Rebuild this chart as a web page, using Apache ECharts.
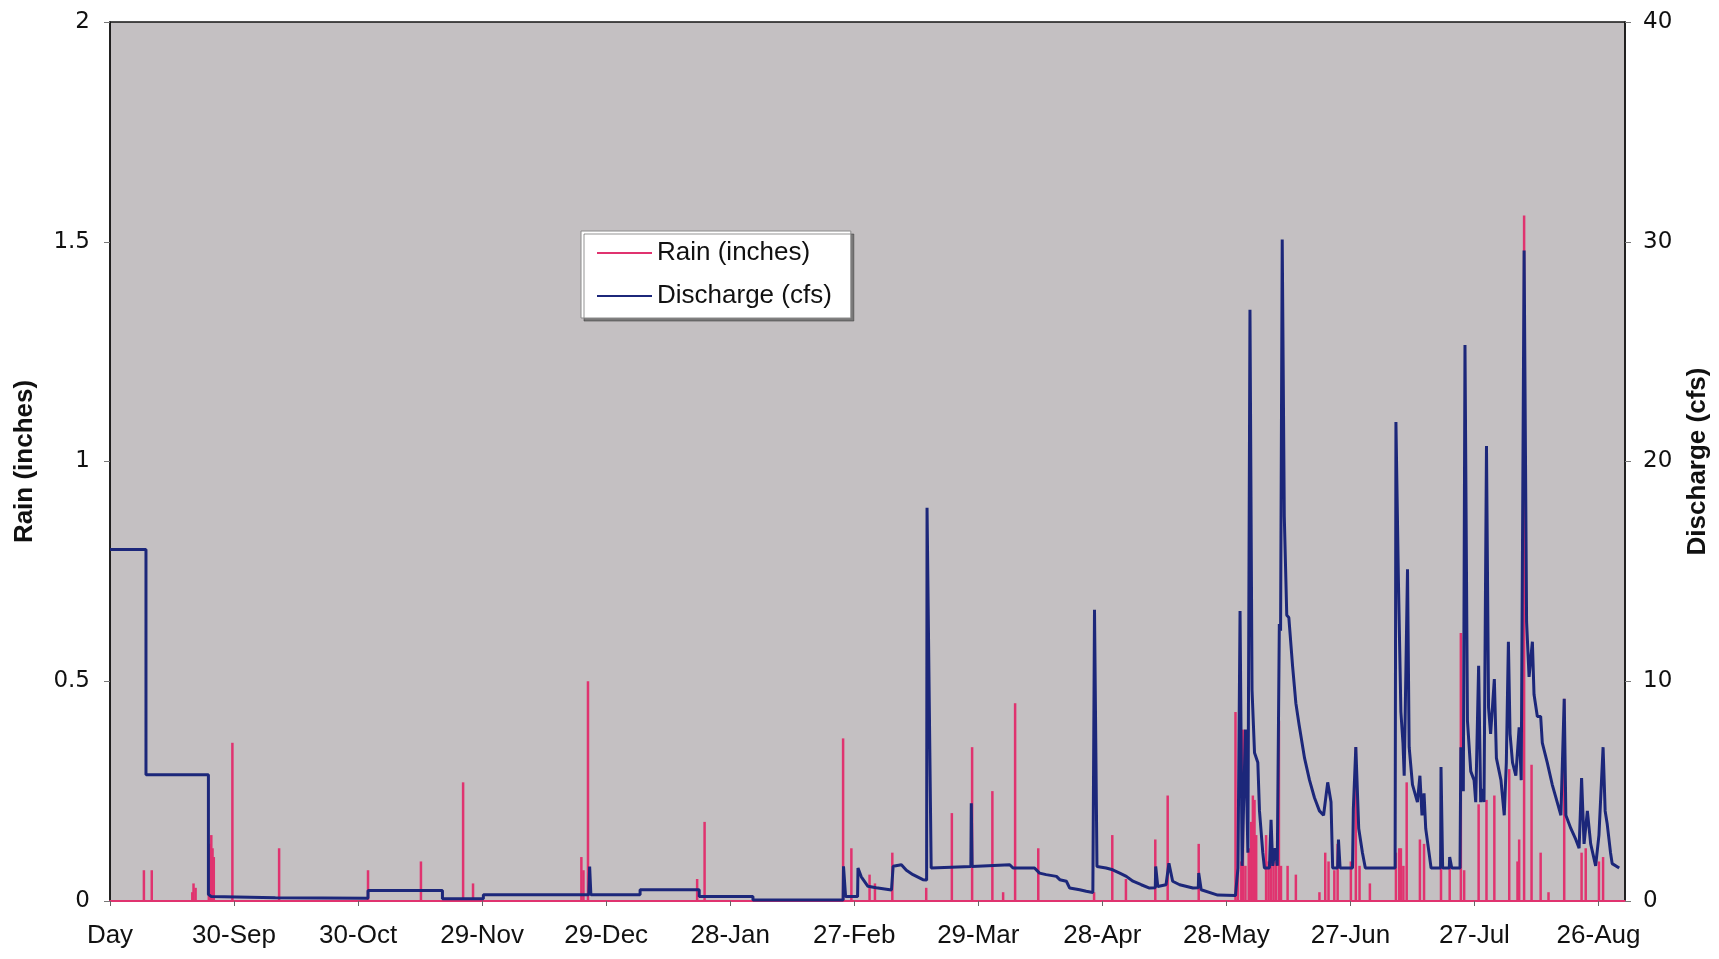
<!DOCTYPE html>
<html>
<head>
<meta charset="utf-8">
<script src="https://cdn.jsdelivr.net/npm/echarts@6/dist/echarts.min.js"></script>
<style>
  html, body { margin: 0; padding: 0; background: #ffffff; }
  #chart { width: 1719px; height: 959px; }
</style>
</head>
<body>
<div id="chart"></div>
<script>
// x axis: days since the start of the record, labelled every 30 days
const tickLabels = ['Day', '30-Sep', '30-Oct', '29-Nov', '29-Dec', '28-Jan', '27-Feb',
                    '29-Mar', '28-Apr', '28-May', '27-Jun', '27-Jul', '26-Aug'];

// rainfall events: day and depth (inches)
const rainDay = [8.2, 10.1, 19.9, 20.2, 20.7, 23.9, 24.2, 24.5, 24.8, 25.1, 29.6, 40.9, 62.4, 75.2,
  85.4, 87.8, 114.0, 114.5, 115.6, 142.0, 143.8, 177.3, 179.3, 183.7, 185.0, 189.2, 197.4, 203.6,
  208.5, 213.4, 216.0, 218.9, 224.5, 238.0, 242.4, 245.7, 252.8, 255.8, 263.3,
  272.2, 272.8, 273.6, 274.0, 274.6, 275.4, 276.0, 276.4, 276.8, 277.2, 279.6, 280.2, 280.8,
  281.4, 282.0, 282.7, 283.2, 284.8, 286.8, 292.5, 293.9, 294.7, 296.1, 296.9, 300.1, 301.3,
  302.2, 304.7, 311.0, 311.8, 312.2, 312.8, 313.6, 316.8, 317.8, 321.9, 324.0, 326.7, 327.5,
  331.0, 332.9, 334.8, 338.4, 340.4, 340.8, 342.0, 343.8, 346.0, 347.9, 351.7, 355.9, 356.9,
  360.1, 361.1];
const rainIn = [0.07, 0.07, 0.02, 0.04, 0.03, 0.08, 0.13, 0.15, 0.12, 0.10, 0.36, 0.12, 0.07, 0.09,
  0.27, 0.04, 0.10, 0.07, 0.50, 0.05, 0.18, 0.37, 0.12, 0.06, 0.04, 0.11, 0.03, 0.20,
  0.35, 0.25, 0.02, 0.45, 0.12, 0.02, 0.15, 0.05, 0.14, 0.24, 0.13,
  0.43, 0.07, 0.09, 0.39, 0.08, 0.12, 0.18, 0.24, 0.23, 0.15, 0.15, 0.09, 0.09,
  0.09, 0.09, 0.41, 0.08, 0.08, 0.06, 0.02, 0.11, 0.09, 0.07, 0.13, 0.09, 0.35,
  0.08, 0.04, 0.11, 0.12, 0.12, 0.08, 0.27, 0.14, 0.13, 0.10, 0.09, 0.61, 0.07,
  0.22, 0.23, 0.24, 0.30, 0.09, 0.14, 1.56, 0.31, 0.11, 0.02, 0.46, 0.11, 0.12,
  0.09, 0.10];

// stream discharge: day and flow (cfs)
const flowDay = [0, 8.7, 8.7, 23.8, 23.8, 24.5, 40, 62.4, 62.4, 80.4, 80.4, 90.3, 90.3, 115.8, 116.0,
  116.3, 128.2, 128.2, 142.5, 142.5, 155.5, 155.5, 177.3, 177.4, 177.9, 180.8, 180.9, 181.7, 183.3,
  185.3, 189.0, 189.4, 191.4, 192.6, 194.2, 196.6, 197.5, 197.6, 198.6, 208.2, 208.3, 208.5, 217.6,
  218.4, 223.6, 224.8, 226.4, 228.9, 229.7, 231.3, 232.1, 234.5, 236.1, 237.7, 238.1, 238.7, 240.9,
  242.5, 244.2, 245.8, 247.4, 249.4, 251.4, 252.8, 252.9, 253.4, 255.4, 256.1, 257.0, 258.7, 261.9,
  263.2, 263.3, 263.9, 267.9, 272.2, 272.5, 272.8, 273.3, 273.8, 274.6, 275.2, 275.7, 276.2, 276.8,
  277.6, 278.0, 278.8, 279.2, 280.4, 280.8, 281.2, 281.8, 282.3, 282.8, 283.1, 283.5, 284.0, 284.6,
  285.1, 286.0, 286.8, 287.6, 288.9, 290.1, 291.3, 292.5, 293.5, 294.5, 295.3, 295.7, 296.9, 297.1,
  297.5, 300.5, 300.7, 301.3, 302.0, 302.9, 303.6, 310.8, 311.0, 311.6, 312.2, 312.7, 313.0, 313.8,
  314.2, 315.0, 316.2, 316.8, 317.3, 317.8, 318.2, 319.0, 319.5, 321.8, 321.9, 322.3, 323.9, 324.0,
  324.5, 326.5, 326.7, 327.3, 327.7, 328.3, 329.1, 329.9, 330.3, 331.0, 331.5, 331.9, 332.3, 332.9,
  333.4, 333.9, 334.8, 335.3, 336.4, 337.2, 337.7, 338.2, 338.6, 339.2, 340.0, 340.8, 341.3, 342.0,
  342.6, 343.2, 344.0, 344.4, 345.2, 346.0, 346.4, 347.6, 348.8, 350.0, 350.9, 351.7, 352.1, 353.3,
  354.5, 355.3, 355.9, 356.5, 357.3, 358.1, 359.3, 360.1, 361.1, 361.6, 362.1, 362.9, 363.3, 365.0];
const flowCfs = [16.0, 16.0, 5.75, 5.75, 0.3, 0.2, 0.15, 0.12, 0.48, 0.48, 0.1, 0.1, 0.28, 0.28, 1.57,
  0.28, 0.28, 0.51, 0.51, 0.2, 0.2, 0.05, 0.05, 1.58, 0.2, 0.2, 1.5, 1.1, 0.67,
  0.6, 0.5, 1.58, 1.65, 1.4, 1.2, 0.97, 0.95, 17.9, 1.5, 1.57, 4.45, 1.57, 1.65,
  1.5, 1.5, 1.27, 1.2, 1.12, 0.97, 0.9, 0.59, 0.51, 0.44, 0.39, 13.25, 1.57, 1.5,
  1.42, 1.27, 1.12, 0.9, 0.74, 0.59, 0.6, 1.57, 0.66, 0.74, 1.72, 0.9, 0.74, 0.59,
  0.6, 1.27, 0.51, 0.27, 0.25, 0.9, 1.5, 13.2, 1.6, 7.8, 2.2, 26.9, 9.6, 6.75,
  6.3, 4.1, 2.2, 1.5, 1.5, 3.7, 1.6, 2.4, 1.6, 12.6, 12.3, 30.1, 17.5, 13.0,
  12.9, 10.7, 9.0, 8.0, 6.5, 5.5, 4.7, 4.1, 3.9, 5.4, 4.5, 1.5, 1.5, 2.8,
  1.5, 1.5, 4.2, 7.0, 3.3, 2.2, 1.5, 1.5, 21.8, 14.6, 8.6, 7.2, 5.7, 15.1,
  7.0, 5.3, 4.5, 5.7, 3.9, 4.9, 3.3, 2.2, 1.5, 1.5, 6.1, 1.5, 1.5, 2.0,
  1.5, 1.5, 7.0, 5.0, 25.3, 8.2, 5.9, 5.5, 4.5, 10.7, 4.5, 5.1, 4.5, 20.7,
  8.8, 7.6, 10.1, 6.5, 5.5, 3.9, 6.3, 11.8, 7.6, 6.3, 5.7, 7.9, 5.5, 29.6,
  12.7, 10.2, 11.8, 9.4, 8.4, 8.4, 7.2, 6.3, 5.3, 4.5, 3.9, 9.2, 3.9, 3.3,
  2.8, 2.4, 5.6, 2.6, 4.1, 2.6, 1.6, 3.0, 7.0, 4.1, 3.5, 2.2, 1.7, 1.5];

const RAIN_COLOR = '#e0336f';
const FLOW_COLOR = '#1c277a';
const TEXT_FONT = "'Liberation Sans', Arial, sans-serif";
const NUM_FONT = "'DejaVu Sans', Verdana, sans-serif";

const rainData = rainDay.map((d, i) => [d, rainIn[i]]);
const flowData = flowDay.map((d, i) => [d, flowCfs[i]]);

const chart = echarts.init(document.getElementById('chart'), null, { renderer: 'canvas' });

chart.setOption({
  animation: false,
  backgroundColor: '#ffffff',
  grid: {
    left: 110, right: 93, top: 22, bottom: 58,
    show: true,
    backgroundColor: '#c4c0c2',
    borderColor: '#151515',
    borderWidth: 1.5
  },
  legend: {
    data: ['Rain (inches)', 'Discharge (cfs)'],
    orient: 'vertical',
    left: 581, top: 231,
    icon: 'rect',
    itemWidth: 55, itemHeight: 2,
    itemGap: 17,
    padding: [9, 19, 9, 16],
    backgroundColor: '#ffffff',
    borderColor: '#8a8a8a',
    borderWidth: 1,
    shadowColor: 'rgba(60,60,60,0.55)',
    shadowOffsetX: 3, shadowOffsetY: 3, shadowBlur: 0,
    textStyle: { fontFamily: TEXT_FONT, fontSize: 26, color: '#111' }
  },
  xAxis: {
    type: 'value',
    min: 0, max: 366.4, interval: 30,
    axisLine: { show: true, onZero: false, lineStyle: { color: RAIN_COLOR, width: 2 } },
    axisTick: { show: true, length: 5, lineStyle: { color: '#666', width: 1 } },
    splitLine: { show: false },
    axisLabel: {
      margin: 22,
      fontFamily: TEXT_FONT, fontSize: 26, color: '#111',
      showMaxLabel: false,
      formatter: function (v) {
        const k = Math.round(v / 30);
        return Math.abs(v - k * 30) < 1e-6 && tickLabels[k] ? tickLabels[k] : '';
      }
    }
  },
  yAxis: [
    {
      type: 'value', position: 'left',
      min: 0, max: 2, interval: 0.5,
      name: 'Rain (inches)', nameLocation: 'middle', nameGap: 72, nameRotate: 90,
      nameTextStyle: { fontFamily: TEXT_FONT, fontSize: 26, fontWeight: 'bold', color: '#111' },
      axisLine: { show: true, lineStyle: { color: '#151515', width: 1.5 } },
      axisTick: { show: true, length: 6, lineStyle: { color: '#777' } },
      splitLine: { show: false },
      axisLabel: { margin: 20, fontFamily: NUM_FONT, fontSize: 23, color: '#111' }
    },
    {
      type: 'value', position: 'right',
      min: 0, max: 40, interval: 10,
      name: 'Discharge (cfs)', nameLocation: 'middle', nameGap: 60, nameRotate: 90,
      nameTextStyle: { fontFamily: TEXT_FONT, fontSize: 26, fontWeight: 'bold', color: '#111' },
      axisLine: { show: true, lineStyle: { color: '#151515', width: 1.5 } },
      axisTick: { show: true, length: 6, lineStyle: { color: '#777' } },
      splitLine: { show: false },
      axisLabel: { margin: 18, fontFamily: NUM_FONT, fontSize: 23, color: '#111' }
    }
  ],
  series: [
    {
      name: 'Rain (inches)',
      type: 'bar',
      xAxisIndex: 0, yAxisIndex: 0,
      barWidth: 2.5,
      itemStyle: { color: RAIN_COLOR },
      z: 2,
      data: rainData
    },
    {
      name: 'Discharge (cfs)',
      type: 'line',
      xAxisIndex: 0, yAxisIndex: 1,
      symbol: 'none',
      lineStyle: { color: FLOW_COLOR, width: 3 },
      itemStyle: { color: FLOW_COLOR },
      z: 3,
      data: flowData
    }
  ]
});
</script>
</body>
</html>
